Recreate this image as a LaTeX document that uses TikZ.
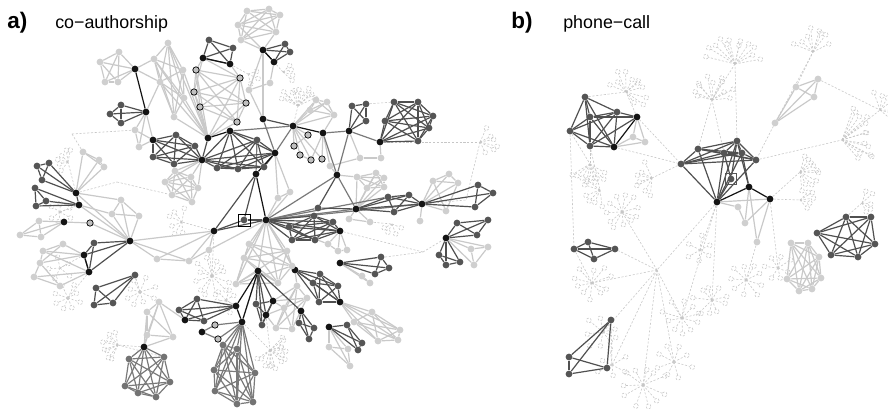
\documentclass[tikz,border=0pt]{standalone}
\usepackage{fontspec}
\setmainfont{Liberation Sans}
\definecolor{nblack}{HTML}{141414}
\definecolor{ndark}{HTML}{555555}
\definecolor{nmid}{HTML}{737373}
\definecolor{nlight}{HTML}{CFCFCF}
\definecolor{ncirc}{HTML}{C0C0C0}
\definecolor{edark}{HTML}{505050}
\definecolor{emid}{HTML}{7A7A7A}
\definecolor{elight}{HTML}{C9C9C9}
\definecolor{dashc}{HTML}{C6C6C6}
\pgfdeclarelayer{paper}
\pgfdeclarelayer{dashlayer}
\pgfdeclarelayer{edgelayer}
\pgfsetlayers{paper,dashlayer,edgelayer,main}
% helpers: a vertex, a list of edges, a full clique, a fan of dashed leaves
\newcommand\pnode[3]{\node[#1] (#2) at (#3) {};}
\newcommand\edg[2]{\foreach \u/\v in {#2}{\draw[#1] (\u) -- (\v);}}
\newcommand\clq[2]{\foreach \u [count=\i] in {#2}{\foreach \v [count=\j] in {#2}{\ifnum\j>\i\relax\draw[#1] (\u) -- (\v);\fi}}}
\newcommand\fan[5]{\foreach \k in {1,...,#4}{%
  \pgfmathsetmacro\fa{#2+(#3-#2)*(\k-0.5)/#4+8*rand}%
  \pgfmathsetmacro\fl{#5*(0.7+0.6*rnd)}%
  \draw[ds] (#1) -- ++(\fa:\fl) coordinate (ftip);%
  \path (ftip) ++(\fa:2.4) coordinate (fcen);%
  \draw[ds] (fcen) circle [radius=0.06cm];}}
\tikzset{
  vx/.style={circle, inner sep=0pt, minimum size=0.17cm, draw=none},
  bk/.style={vx, fill=nblack},
  dk/.style={vx, fill=ndark},
  md/.style={vx, fill=nmid},
  lt/.style={vx, fill=nlight},
  gc/.style={vx, fill=ncirc, draw=black, line width=0.5pt, minimum size=0.16cm},
  eb/.style={draw=nblack, line width=0.85pt},
  ed/.style={draw=edark, line width=0.85pt},
  em/.style={draw=emid, line width=0.85pt},
  el/.style={draw=elight, line width=0.85pt},
  ds/.style={draw=dashc, line width=0.4pt, dash pattern=on 1.5pt off 1.2pt},
  markbox/.style={rectangle, draw=black, line width=0.6pt, minimum size=0.3cm, inner sep=0pt},
  plabel/.style={anchor=base west, inner sep=0pt, font=\fontsize{16}{16}\selectfont\bfseries},
  ptitle/.style={anchor=base west, inner sep=0pt, font=\fontsize{12.7}{13}\selectfont}
}
\begin{document}
\begin{tikzpicture}[x=0.025cm, y=-0.025cm]
\pgfmathsetseed{4242}
\useasboundingbox (0,0) rectangle (888,409);
\begin{pgfonlayer}{paper}
\fill[white] (0,0) rectangle (888,409);
\end{pgfonlayer}

% ---------- titles ----------
\node[plabel] (ta) at (7,28) {a)};
\node[ptitle] (tna) at (55,28) {co−authorship};
\node[plabel] (tb) at (511,28) {b)};
\node[ptitle] (tnb) at (563,28) {phone−call};

% ================= panel a: vertices =================
\pnode{bk}{a1}{266,220} \pnode{bk}{a2}{214,231} \pnode{bk}{a3}{256,174}
\pnode{bk}{a4}{275,153} \pnode{bk}{a5}{263,119} \pnode{bk}{a6}{293,126}
\pnode{bk}{a7}{323,133} \pnode{bk}{a8}{349,131} \pnode{bk}{a9}{380,142}
\pnode{bk}{a10}{337,175} \pnode{bk}{a11}{356,209} \pnode{bk}{a12}{422,204}
\pnode{bk}{a13}{340,231} \pnode{bk}{a14}{340,263} \pnode{bk}{a15}{258,271}
\pnode{bk}{a16}{295,270} \pnode{bk}{a17}{446,238} \pnode{bk}{a18}{130,241}
\pnode{bk}{a20}{202,160} \pnode{bk}{a21}{208,138} \pnode{bk}{a22}{230,131}
\pnode{bk}{a23}{153,140} \pnode{bk}{a24}{146,112} \pnode{bk}{a25}{135,69}
\pnode{bk}{a26}{203,58} \pnode{bk}{a27}{230,64} \pnode{bk}{a28}{263,50}
\pnode{bk}{a29}{274,62} \pnode{bk}{a30}{76,193} \pnode{bk}{a31}{79,205}
\pnode{bk}{a32}{64,222} \pnode{bk}{a33}{84,255} \pnode{bk}{a34}{89,272}
\pnode{bk}{a35}{185,320} \pnode{bk}{a36}{236,306} \pnode{bk}{a37}{242,322}
\pnode{bk}{a38}{202,332} \pnode{bk}{a39}{144,347} \pnode{bk}{a40}{273,301}
\pnode{bk}{a41}{266,315} \pnode{bk}{a42}{301,311} \pnode{bk}{a43}{340,302}
\pnode{bk}{a44}{329,327}
\pnode{dk}{sq}{244,220}
\node[markbox] (sqbox) at (244,220) {};

\pnode{gc}{g1}{196,70} \pnode{gc}{g2}{240,78} \pnode{gc}{g3}{194,92}
\pnode{gc}{g4}{200,107} \pnode{gc}{g5}{246,103} \pnode{gc}{g6}{237,122}
\pnode{gc}{g7}{308,135} \pnode{gc}{g8}{294,146} \pnode{gc}{g9}{300,155}
\pnode{gc}{g10}{311,160} \pnode{gc}{g11}{322,159} \pnode{gc}{g12}{90,223}
\pnode{gc}{g13}{215,325} \pnode{gc}{g14}{218,339}

\foreach \n/\p in {d1/{209,40},d2/{233,48},d3/{285,44},d4/{290,52},d5/{121,105},
  d6/{110,114},d7/{121,123},d8/{176,135},d9/{195,146},d10/{174,164},d11/{153,157},
  d12/{257,140},d13/{264,167},d14/{238,169},d15/{217,168},d16/{394,102},d17/{418,102},
  d18/{433,116},d19/{429,128},d20/{418,141},d21/{385,121},d22/{352,106},d23/{366,104},
  d24/{366,121},d25/{314,216},d26/{333,222},d27/{315,240},d28/{292,240},d29/{289,227},
  d30/{388,197},d31/{409,195},d32/{394,212},d33/{318,208},d34/{478,185},d35/{493,193},
  d36/{475,207},d37/{457,223},d38/{488,220},d39/{477,235},d40/{439,255},d41/{446,265},
  d42/{460,262},d43/{381,257},d44/{389,268},d45/{375,274},d46/{320,274},d47/{313,283},
  d48/{338,286},d49/{319,302},d50/{299,323},d51/{314,328},d52/{309,339},d53/{347,325},
  d54/{362,343},d55/{358,350},d56/{256,304},d57/{262,325},d58/{179,310},d59/{197,299},
  d60/{204,321},d61/{96,288},d62/{94,305},d63/{113,303},d64/{135,275},d65/{94,243},
  d66/{37,166},d67/{49,163},d68/{42,180},d69/{35,188},d70/{46,201},d71/{36,206}}
  {\node[dk] (\n) at (\p) {};}

\foreach \n/\p in {m1/{223,345},m2/{237,349},m3/{214,370},m4/{255,373},m5/{215,391},
  m6/{237,404},m7/{253,402},m8/{129,359},m9/{164,357},m10/{125,386},m11/{170,382},
  m12/{138,393},m13/{156,397}}
  {\node[md] (\n) at (\p) {};}

\foreach \n/\p in {l1/{247,11},l2/{269,9},l3/{280,15},l4/{276,32},l5/{241,40},l6/{238,25},
  l7/{249,90},l8/{270,83},l9/{100,62},l10/{119,52},l11/{118,82},l12/{105,82},
  l13/{154,59},l14/{168,43},l15/{183,70},l16/{184,98},l17/{174,117},l18/{160,82},
  l19/{135,130},l20/{139,147},l21/{83,152},l22/{99,160},l23/{104,167},
  l24/{121,200},l25/{139,216},l26/{112,214},l27/{20,235},l28/{39,221},l29/{41,237},
  l30/{43,251},l31/{63,244},l32/{40,263},l33/{34,277},l34/{60,286},
  l35/{157,259},l36/{189,261},l37/{209,250},l38/{249,244},l39/{287,251},l40/{244,258},
  l41/{236,284},l42/{278,283},l43/{292,266},l44/{357,177},l45/{376,173},l46/{384,178},
  l47/{384,187},l48/{367,188},l49/{349,219},l50/{370,222},l51/{433,181},l52/{449,174},
  l53/{458,183},l54/{446,211},l55/{420,221},l56/{471,249},l57/{488,247},l58/{474,265},
  l59/{362,276},l60/{370,283},l61/{372,312},l62/{400,330},l63/{398,340},l64/{378,341},
  l65/{354,322},l66/{329,347},l67/{348,349},l68/{350,366},l69/{297,286},l70/{307,298},
  l71/{284,308},l72/{276,328},l73/{292,329},l74/{147,312},l75/{159,302},l76/{173,337},
  l77/{147,335},l78/{165,182},l79/{175,171},l80/{191,177},l81/{198,188},l82/{192,202},
  l83/{172,195},l84/{316,100},l85/{327,102},l86/{334,115},l87/{310,110},l88/{330,166},
  l89/{360,158},l90/{381,158},l91/{328,244},l92/{338,251},l93/{347,250},l94/{278,198},
  l95/{290,192}}
  {\node[lt] (\n) at (\p) {};}

% ================= panel b: vertices =================
\foreach \n/\p in {b1/{585,97},b2/{570,131},b3/{590,117},b4/{617,112},b5/{590,146},
  b10/{681,164},b11/{698,149},b12/{724,153},b13/{737,141},b14/{742,153},b15/{756,160},
  b16/{731,179},b27/{817,233},b28/{846,217},b29/{871,217},b30/{875,244},b31/{858,257},
  b32/{831,255},b40/{574,249},b41/{588,242},b42/{615,249},b43/{594,259},
  b44/{611,320},b45/{569,357},b46/{569,374},b47/{607,368}}
  {\node[dk] (\n) at (\p) {};}
\foreach \n/\p in {b6/{614,147},b7/{637,117},b17/{717,202},b18/{749,187},b19/{770,199}}
  {\node[bk] (\n) at (\p) {};}
\foreach \n/\p in {b8/{633,137},b9/{645,142},b20/{738,207},b21/{745,223},b22/{757,242},
  b23/{818,79},b24/{796,87},b25/{814,97},b26/{775,123},b33/{791,243},b34/{808,243},
  b35/{819,257},b36/{821,278},b37/{812,289},b38/{799,291},b39/{787,279}}
  {\node[lt] (\n) at (\p) {};}
\node[markbox, minimum size=0.26cm, line width=0.5pt, draw=ndark] (b16box) at (731,179) {};

% ---------- branch points of the dashed background ----------
\foreach \n/\p in {fa1/{298,106},fa3/{480,142},fa6/{270,350},fa7/{118,345},fa8/{68,298},
  fa9/{140,292},fa10/{212,276},fa11/{182,222},fa14/{68,162},fa16/{60,212},fa18/{283,72},
  fa19/{248,74},fa23/{392,224},fa24/{226,300},fa25/{60,268},ca1/{423,252},ca2/{72,134},
  ca3/{117,182},ca5/{466,200},
  hb/{657,270},fb1/{735,64},fb2/{813,52},fb3/{626,92},fb4/{712,100},fb5/{842,140},
  fb6/{590,164},fb7/{652,178},fb8/{622,212},fb9/{592,283},fb10/{603,332},fb11/{682,318},
  fb12/{643,385},fb13/{712,300},fb14/{746,280},fb15/{800,172},fb16/{778,268},fb17/{862,203},
  fb18/{674,362},fb19/{800,200},fb20/{880,110},fb21/{600,190},fb22/{700,250},fb23/{612,365}}
  {\coordinate (\n) at (\p);}

% ================= dashed background =================
\begin{pgfonlayer}{dashlayer}
\fan{fa1}{-165}{-15}{11}{15}
\fan{fa3}{-70}{70}{6}{12}
\fan{fa6}{-60}{150}{14}{13}
\fan{fa7}{100}{260}{8}{11}
\fan{fa8}{0}{360}{8}{10}
\fan{fa9}{0}{360}{8}{11}
\fan{fa10}{0}{360}{12}{14}
\fan{fa11}{60}{300}{6}{10}
\fan{fa14}{120}{300}{6}{9}
\fan{fa16}{0}{360}{6}{8}
\fan{fa18}{-60}{60}{4}{8}
\fan{fa19}{-30}{90}{3}{7}
\fan{fa23}{0}{180}{4}{7}
\fan{fa24}{0}{360}{7}{9}
\fan{fa25}{0}{360}{5}{8}
\edg{ds}{a6/fa1,a9/fa3,fa3/ca5,a41/fa6,a39/fa7,a34/fa8,d64/fa9,a2/fa10,a2/fa11,
  a30/fa14,a31/fa16,a29/fa18,a27/fa19,l50/fa23,a13/ca1,ca1/a17,a14/ca1,
  l21/ca2,ca2/l19,a30/ca3,ca3/l83,d23/d16,a12/ca5,l37/fa10,a37/fa6,m9/fa7,
  a36/fa24,a33/fa25}
% panel b
\fan{fb1}{-170}{-10}{12}{22}
\fan{fb2}{-160}{-20}{8}{17}
\fan{fb3}{-160}{60}{11}{15}
\fan{fb4}{-180}{0}{11}{17}
\fan{fb5}{-80}{60}{13}{25}
\fan{fb6}{20}{160}{9}{15}
\fan{fb7}{90}{250}{7}{13}
\fan{fb8}{0}{360}{11}{13}
\fan{fb9}{0}{360}{10}{14}
\fan{fb10}{0}{360}{9}{13}
\fan{fb11}{0}{360}{10}{15}
\fan{fb12}{0}{360}{11}{17}
\fan{fb13}{0}{360}{9}{14}
\fan{fb14}{0}{360}{9}{13}
\fan{fb15}{-90}{90}{10}{15}
\fan{fb16}{0}{360}{7}{11}
\fan{fb17}{-90}{90}{5}{9}
\fan{fb18}{0}{360}{8}{13}
\fan{fb19}{-60}{60}{5}{10}
\fan{fb20}{-120}{60}{7}{13}
\fan{fb21}{60}{240}{6}{11}
\fan{fb22}{0}{360}{6}{10}
\fan{fb23}{0}{360}{6}{11}
\edg{ds}{b13/fb1,b24/fb2,b26/fb2,b7/fb3,b1/fb3,b12/fb4,b11/fb4,b15/fb5,b5/fb6,b2/fb6,
  b10/fb7,hb/fb8,hb/fb9,hb/fb10,hb/fb11,hb/fb12,b17/hb,b17/fb13,b22/fb14,b19/fb15,
  b19/fb16,b28/fb17,b7/b10,b6/b10,hb/b42,b17/fb11,b26/b15,fb1/fb4,hb/fb18,b19/fb19,
  b23/fb20,fb5/fb20,b5/fb21,b17/fb22,b44/fb23,hb/fb23,b2/b40,b40/fb9}
\end{pgfonlayer}

% ================= edges =================
\begin{pgfonlayer}{edgelayer}
% light
\clq{el}{l1,l2,l3,l4,l5,l6}
\clq{el}{l9,l10,a25,l11,l12}
\clq{el}{l13,l14,l15,l16,l17,l18}
\clq{el}{g1,g2,g3,g4,g5,g6}
\clq{el}{l78,l79,l80,l81,l82,l83}
\clq{el}{l21,l22,l23,a30}
\clq{el}{l24,l25,l26,a18}
\clq{el}{l27,l28,l29,a32}
\clq{el}{l38,l39,l40,l41,l42,l43}
\clq{el}{l44,l45,l46,l47,l48}
\clq{el}{l61,l62,l63,l64,l65}
\clq{el}{l69,l70,l71,l72,l73}
\clq{el}{l74,l75,l76,l77}
\clq{el}{l84,l85,l86,l87}
\edg{el}{a28/l5,a28/l4,a28/l6,a28/l7,a29/l8,l7/l8,l7/a5,a28/a5,
  l13/a21,l14/a21,l15/a21,l16/a21,l17/a21,l18/a21,a25/l13,a25/l18,a24/l18,
  a24/l19,a24/l20,l19/l20,l19/a23,l20/a23,a23/a24,
  g1/a21,g2/a21,g3/a21,g4/a21,g5/a21,g6/a21,g1/a26,g2/a27,g3/a26,g2/a26,
  a20/l78,a20/l79,a20/l80,a20/l81,a30/a18,a31/a18,a30/l24,a31/l26,a32/g12,g12/a18,
  l30/l31,l30/l32,l31/l32,l32/l33,l33/l34,l32/l34,l30/a33,l31/a33,l32/a33,l33/a34,l34/a34,l30/a34,
  a18/a2,a18/l35,a18/l36,l35/a2,l36/a2,l37/a2,l35/l36,l36/l37,a1/l37,
  a1/l38,a1/l39,a1/l40,a1/l41,a1/l42,a1/l43,a15/l40,a15/l41,a15/l42,a1/a15,a1/a16,
  a11/l44,a11/l45,a11/l46,a11/l47,a11/l48,a11/l49,a11/l50,a10/l44,l49/l50,
  a13/l91,a13/l92,a13/l93,l91/l92,l92/l93,a1/l91,
  a12/l51,a12/l52,a12/l53,a12/l54,a12/l55,l51/l52,l52/l53,l51/l53,l53/l54,l51/l54,
  a17/l56,a17/l57,a17/l58,l56/l57,l56/l58,l57/l58,a14/l59,a14/l60,l59/l60,
  a43/l61,a43/l62,a43/l63,a43/l64,a43/l65,a44/l66,a44/l67,a44/l68,l66/l67,l67/l68,l66/l68,
  a40/l69,a40/l70,a16/l69,a41/l71,a41/l72,a40/l71,
  a39/l74,a39/l75,a39/l76,a39/l77,a35/l75,
  a6/l84,a6/l85,a6/l86,a6/l87,a7/l86,a6/g7,a6/g8,a6/g9,a6/g10,a6/g11,a7/g10,a7/g11,g7/g8,g9/g10,
  a7/l88,a8/l89,a9/l90,l88/l89,l89/l90,a10/l88,a4/l94,a4/l95,a1/l94,a1/l95,l94/l95,a37/a15}
% panel b light
\clq{el}{b23,b24,b25,b26}
\clq{el}{b33,b34,b35,b36,b37,b38,b39}
\edg{el}{b6/b8,b6/b9,b7/b8,b8/b9,b7/b9,b17/b20,b17/b19,b18/b21,b18/b22,b19/b22,
  b20/b21,b19/b21}
% mid grey
\clq{em}{a37,m1,m2,m3,m4,m5,m6,m7}
\clq{em}{a39,m8,m9,m10,m11,m12,m13}
\edg{em}{a1/a10,a1/d33,a10/a7,a10/a8,a4/a5,a4/a6,a22/a6,a3/d12,a7/a8,a8/a9,
  a38/g13,g13/a37,a38/g14,g14/a37,a1/a11,a1/d30,a1/a12,a10/a11}
% dark
\clq{ed}{d1,d2,a27,a26}
\clq{ed}{a28,d3,d4,a29}
\clq{ed}{d5,d6,d7,a24}
\clq{ed}{a23,d8,d9,a20,d10,d11}
\clq{ed}{a22,d12,a4,d13,d14,d15,a20}
\clq{ed}{d16,d17,d18,d19,d20,d21,a9}
\clq{ed}{d22,d23,d24,a8}
\clq{ed}{a1,d25,d26,a13,d27,d28,d29}
\clq{ed}{a11,d30,d31,d32,a12}
\clq{ed}{a12,d34,d35,d36}
\clq{ed}{a17,d37,d38,d39}
\clq{ed}{a17,d40,d41,d42}
\clq{ed}{a14,d43,d44,d45}
\clq{ed}{a16,d46,d47,d48,d49,a43}
\clq{ed}{a42,d50,d51,d52}
\clq{ed}{a44,d53,d54,d55}
\clq{ed}{a15,d56,a41,d57,a40}
\clq{ed}{a35,d58,d59,d60,a36}
\clq{ed}{d61,d62,d63,d64}
\clq{ed}{a18,d65,a33,a34}
\clq{ed}{d66,d67,d68,a30}
\clq{ed}{d69,d70,d71,a31}
\edg{ed}{sq/a1,sq/a2,sq/a3,a2/a3,a2/a1,d33/a11,a10/d33,a15/a42,a5/a6,a20/a21,a30/a31}
% panel b dark
\clq{ed}{b1,b2,b3,b4,b5,b6}
\clq{ed}{b10,b11,b12,b13,b14,b15}
\clq{ed}{b27,b28,b29,b30,b31,b32}
\clq{ed}{b40,b41,b42,b43}
\clq{ed}{b44,b45,b46,b47}
\edg{ed}{b7/b3,b7/b4,b7/b5,b17/b10,b17/b11,b17/b12,b17/b13,b17/b14,b17/b15,b17/b16,
  b16/b12,b16/b13,b18/b14,b18/b13}
% black
\edg{eb}{a3/a1,a3/a4,a21/a22,a6/a7,a25/a24,a26/a27,a28/a29,a15/a37,a15/a36,a36/a37,
  a33/a34,b7/b6,b17/b18,b18/b19}
\end{pgfonlayer}
\end{tikzpicture}
\end{document}
